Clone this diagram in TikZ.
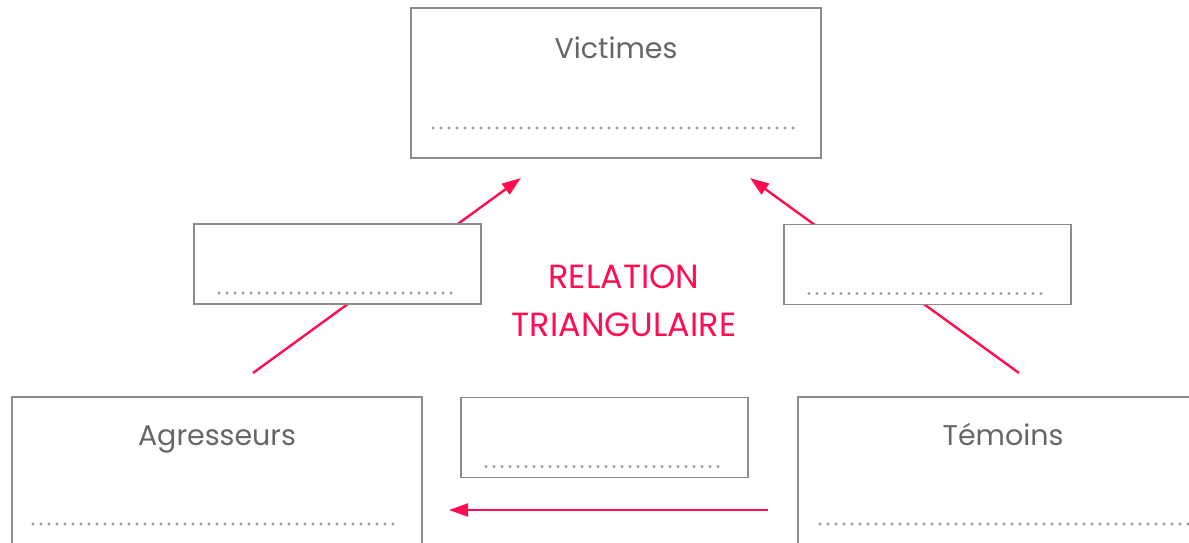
\documentclass[tikz,border=0pt]{standalone}
\usepackage{fontspec}
\setmainfont{Poppins}
\usetikzlibrary{positioning,arrows.meta,decorations.markings}
\definecolor{txtgray}{HTML}{666666}
\definecolor{boxgray}{HTML}{8C8C8C}
\definecolor{dotgray}{HTML}{9A9A9A}
\definecolor{rel}{HTML}{FF0D50}
\begin{document}
\begin{tikzpicture}[x=1pt, y=-1pt,
    box/.style={draw=boxgray, fill=white, line width=1.1pt, minimum width=410pt, minimum height=150pt, inner sep=0pt, outer sep=0pt},
    small/.style={box, minimum width=287pt, minimum height=80pt},
    title/.style={text=txtgray, font=\fontsize{28.5}{34}\selectfont, anchor=base},
    blank/.style={decoration={markings, mark=between positions 0 and 1 step 8pt with {\fill[dotgray] circle (1.7pt);}}, postaction={decorate}},
    post/.style={-{Triangle[length=19pt,width=13pt]}, draw=rel, line width=2.4pt}
]
\useasboundingbox (0,0) rectangle (1189,542);

% free ends of the arrows
\coordinate (agr-out) at (253,373);
\coordinate (vic-in-l) at (521,178);
\coordinate (tem-out) at (1019,373);
\coordinate (vic-in-r) at (750,178);
\coordinate (tem-left) at (768,510);
\coordinate (agr-right) at (449,510);

\draw[post] (agr-out) -- (vic-in-l);
\draw[post] (tem-out) -- (vic-in-r);
\draw[post] (tem-left) -- (agr-right);

% boxes
\node[box] (vict) at (616,83) {};
\node[small] (left) at (337.5,264) {};
\node[small] (right) at (927.5,264.5) {};
\node[box] (agr) at (217,472) {};
\node[small] (mid) at (604.5,437.5) {};
\node[box] (tem) at (1003,472) {};

\node[title] (vict-t) at (616,58) {Victimes};
\node[title] (agr-t) at (217,445) {Agresseurs};
\node[title] (tem-t) at (1003,445) {Témoins};

\node[text=rel, font=\fontsize{33.5}{48}\selectfont, align=center, anchor=base] (rt) at (624,336) {RELATION\\TRIANGULAIRE};

% lines to fill in
\path[blank] ([xshift=22pt,yshift=30pt]vict.south west) -- ([xshift=-22pt,yshift=30pt]vict.south east);
\path[blank] ([xshift=21pt,yshift=23pt]agr.south west) -- ([xshift=-24pt,yshift=23pt]agr.south east);
\path[blank] ([xshift=22pt,yshift=23pt]tem.south west) -- ([xshift=-19pt,yshift=23pt]tem.south east);
\foreach \b in {left,right,mid}
  \path[blank] ([xshift=25pt,yshift=11pt]\b.south west) -- ([xshift=-26pt,yshift=11pt]\b.south east);

%
\end{tikzpicture}
\end{document}
